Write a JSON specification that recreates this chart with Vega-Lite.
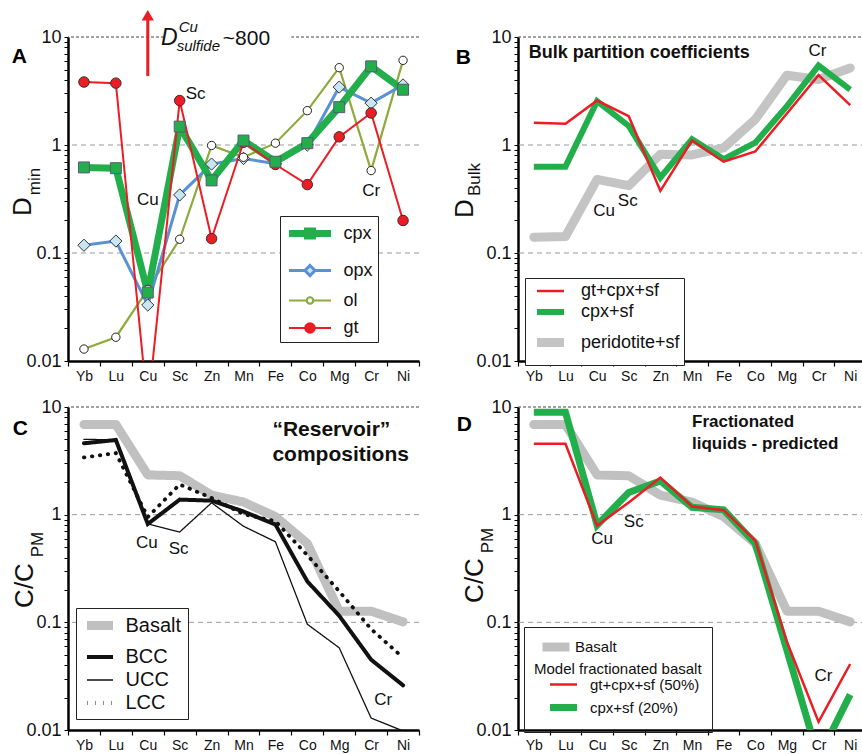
{
"$schema": "https://vega.github.io/schema/vega-lite/v6.json",
"background": "white",
"padding": {"left": 9, "top": 9, "right": 0, "bottom": 2},
"datasets": {
"A": [
{"el":"Yb","s":"ol","v":0.0129},{"el":"Lu","s":"ol","v":0.0166},{"el":"Cu","s":"ol","v":0.046},{"el":"Sc","s":"ol","v":0.134},{"el":"Zn","s":"ol","v":0.99},{"el":"Mn","s":"ol","v":0.77},{"el":"Fe","s":"ol","v":1.04},{"el":"Co","s":"ol","v":2.08},{"el":"Mg","s":"ol","v":5.2},{"el":"Cr","s":"ol","v":0.58},{"el":"Ni","s":"ol","v":6.08},
{"el":"Yb","s":"opx","v":0.118},{"el":"Lu","s":"opx","v":0.129},{"el":"Cu","s":"opx","v":0.033},{"el":"Sc","s":"opx","v":0.345},{"el":"Zn","s":"opx","v":0.666},{"el":"Mn","s":"opx","v":0.75},{"el":"Fe","s":"opx","v":0.67},{"el":"Co","s":"opx","v":1.0},{"el":"Mg","s":"opx","v":3.44},{"el":"Cr","s":"opx","v":2.44},{"el":"Ni","s":"opx","v":3.6},
{"el":"Yb","s":"cpx","v":0.62},{"el":"Lu","s":"cpx","v":0.61},{"el":"Cu","s":"cpx","v":0.043},{"el":"Sc","s":"cpx","v":1.48},{"el":"Zn","s":"cpx","v":0.47},{"el":"Mn","s":"cpx","v":1.1},{"el":"Fe","s":"cpx","v":0.7},{"el":"Co","s":"cpx","v":1.04},{"el":"Mg","s":"cpx","v":2.24},{"el":"Cr","s":"cpx","v":5.35},{"el":"Ni","s":"cpx","v":3.25},
{"el":"Yb","s":"gt","v":3.83},{"el":"Lu","s":"gt","v":3.74},{"el":"Cu","s":"gt","v":0.0036},{"el":"Sc","s":"gt","v":2.58},{"el":"Zn","s":"gt","v":0.136},{"el":"Mn","s":"gt","v":1.06},{"el":"Fe","s":"gt","v":0.66},{"el":"Co","s":"gt","v":0.43},{"el":"Mg","s":"gt","v":1.19},{"el":"Cr","s":"gt","v":1.98},{"el":"Ni","s":"gt","v":0.2}
],
"B": [
{"el":"Yb","s":"peridotite+sf","v":0.14},{"el":"Lu","s":"peridotite+sf","v":0.142},{"el":"Cu","s":"peridotite+sf","v":0.48},{"el":"Sc","s":"peridotite+sf","v":0.42},{"el":"Zn","s":"peridotite+sf","v":0.82},{"el":"Mn","s":"peridotite+sf","v":0.81},{"el":"Fe","s":"peridotite+sf","v":0.94},{"el":"Co","s":"peridotite+sf","v":1.73},{"el":"Mg","s":"peridotite+sf","v":4.43},{"el":"Cr","s":"peridotite+sf","v":4.04},{"el":"Ni","s":"peridotite+sf","v":5.17},
{"el":"Yb","s":"cpx+sf","v":0.63},{"el":"Lu","s":"cpx+sf","v":0.63},{"el":"Cu","s":"cpx+sf","v":2.55},{"el":"Sc","s":"cpx+sf","v":1.5},{"el":"Zn","s":"cpx+sf","v":0.5},{"el":"Mn","s":"cpx+sf","v":1.13},{"el":"Fe","s":"cpx+sf","v":0.74},{"el":"Co","s":"cpx+sf","v":1.05},{"el":"Mg","s":"cpx+sf","v":2.29},{"el":"Cr","s":"cpx+sf","v":5.44},{"el":"Ni","s":"cpx+sf","v":3.26},
{"el":"Yb","s":"gt+cpx+sf","v":1.61},{"el":"Lu","s":"gt+cpx+sf","v":1.57},{"el":"Cu","s":"gt+cpx+sf","v":2.58},{"el":"Sc","s":"gt+cpx+sf","v":1.85},{"el":"Zn","s":"gt+cpx+sf","v":0.376},{"el":"Mn","s":"gt+cpx+sf","v":1.1},{"el":"Fe","s":"gt+cpx+sf","v":0.7},{"el":"Co","s":"gt+cpx+sf","v":0.87},{"el":"Mg","s":"gt+cpx+sf","v":1.96},{"el":"Cr","s":"gt+cpx+sf","v":4.43},{"el":"Ni","s":"gt+cpx+sf","v":2.34}
],
"C": [
{"el":"Yb","s":"Basalt","v":6.88},{"el":"Lu","s":"Basalt","v":6.88},{"el":"Cu","s":"Basalt","v":2.34},{"el":"Sc","s":"Basalt","v":2.3},{"el":"Zn","s":"Basalt","v":1.52},{"el":"Mn","s":"Basalt","v":1.31},{"el":"Fe","s":"Basalt","v":0.96},{"el":"Co","s":"Basalt","v":0.54},{"el":"Mg","s":"Basalt","v":0.127},{"el":"Cr","s":"Basalt","v":0.127},{"el":"Ni","s":"Basalt","v":0.101},
{"el":"Yb","s":"UCC","v":5.0},{"el":"Lu","s":"UCC","v":4.97},{"el":"Cu","s":"UCC","v":0.82},{"el":"Sc","s":"UCC","v":0.69},{"el":"Zn","s":"UCC","v":1.29},{"el":"Mn","s":"UCC","v":0.78},{"el":"Fe","s":"UCC","v":0.56},{"el":"Co","s":"UCC","v":0.096},{"el":"Mg","s":"UCC","v":0.058},{"el":"Cr","s":"UCC","v":0.0129},{"el":"Ni","s":"UCC","v":0.0098},
{"el":"Yb","s":"LCC","v":3.4},{"el":"Lu","s":"LCC","v":3.73},{"el":"Cu","s":"LCC","v":0.95},{"el":"Sc","s":"LCC","v":1.91},{"el":"Zn","s":"LCC","v":1.43},{"el":"Mn","s":"LCC","v":1.01},{"el":"Fe","s":"LCC","v":0.87},{"el":"Co","s":"LCC","v":0.42},{"el":"Mg","s":"LCC","v":0.194},{"el":"Cr","s":"LCC","v":0.0866},{"el":"Ni","s":"LCC","v":0.047},
{"el":"Yb","s":"BCC","v":4.6},{"el":"Lu","s":"BCC","v":4.94},{"el":"Cu","s":"BCC","v":0.82},{"el":"Sc","s":"BCC","v":1.38},{"el":"Zn","s":"BCC","v":1.35},{"el":"Mn","s":"BCC","v":1.07},{"el":"Fe","s":"BCC","v":0.81},{"el":"Co","s":"BCC","v":0.24},{"el":"Mg","s":"BCC","v":0.115},{"el":"Cr","s":"BCC","v":0.045},{"el":"Ni","s":"BCC","v":0.026}
],
"D": [
{"el":"Yb","s":"Basalt","v":6.88},{"el":"Lu","s":"Basalt","v":6.88},{"el":"Cu","s":"Basalt","v":2.34},{"el":"Sc","s":"Basalt","v":2.3},{"el":"Zn","s":"Basalt","v":1.52},{"el":"Mn","s":"Basalt","v":1.31},{"el":"Fe","s":"Basalt","v":0.96},{"el":"Co","s":"Basalt","v":0.54},{"el":"Mg","s":"Basalt","v":0.127},{"el":"Cr","s":"Basalt","v":0.127},{"el":"Ni","s":"Basalt","v":0.101},
{"el":"Yb","s":"cpx+sf (20%)","v":8.93},{"el":"Lu","s":"cpx+sf (20%)","v":8.93},{"el":"Cu","s":"cpx+sf (20%)","v":0.8},{"el":"Sc","s":"cpx+sf (20%)","v":1.61},{"el":"Zn","s":"cpx+sf (20%)","v":2.06},{"el":"Mn","s":"cpx+sf (20%)","v":1.17},{"el":"Fe","s":"cpx+sf (20%)","v":1.11},{"el":"Co","s":"cpx+sf (20%)","v":0.54},{"el":"Mg","s":"cpx+sf (20%)","v":0.055},{"el":"Cr","s":"cpx+sf (20%)","v":0.0055},{"el":"Ni","s":"cpx+sf (20%)","v":0.0213},
{"el":"Yb","s":"gt+cpx+sf (50%)","v":4.55},{"el":"Lu","s":"gt+cpx+sf (50%)","v":4.55},{"el":"Cu","s":"gt+cpx+sf (50%)","v":0.79},{"el":"Sc","s":"gt+cpx+sf (50%)","v":1.3},{"el":"Zn","s":"gt+cpx+sf (50%)","v":2.21},{"el":"Mn","s":"gt+cpx+sf (50%)","v":1.19},{"el":"Fe","s":"gt+cpx+sf (50%)","v":1.1},{"el":"Co","s":"gt+cpx+sf (50%)","v":0.575},{"el":"Mg","s":"gt+cpx+sf (50%)","v":0.066},{"el":"Cr","s":"gt+cpx+sf (50%)","v":0.0119},{"el":"Ni","s":"gt+cpx+sf (50%)","v":0.041}
]
},
"spacing": 15,
"resolve": {"scale": {"color": "independent", "fill": "independent", "stroke": "independent", "strokeWidth": "independent", "strokeDash": "independent", "shape": "independent"}},
"vconcat": [
{"hconcat": [
{
"width": 351, "height": 324,
"title": {"text": "A", "orient": "left", "anchor": "end", "angle": 0, "align": "left", "baseline": "top", "frame": "group", "offset": 0, "dx": 18, "dy": 9, "fontSize": 21, "fontWeight": "bold", "color": "#000"},
"resolve": {"axis": {"y": "independent"}},
"layer": [
{"encoding": {"y": {"field": "v", "type": "quantitative", "scale": {"type": "log", "domain": [0.01, 10], "nice": false},
  "axis": {"orient": "left", "title": "D", "titleX": -38, "titleY": 169, "titleAngle": 270, "titleAlign": "center", "titleBaseline": "alphabetic", "titleFontSize": 26, "titleFontWeight": "normal",
   "values": [0.01,0.02,0.03,0.04,0.05,0.06,0.07,0.08,0.09,0.1,0.2,0.3,0.4,0.5,0.6,0.7,0.8,0.9,1,2,3,4,5,6,7,8,9,10],
   "labelExpr": "datum.value==0.01?'0.01':datum.value==0.1?'0.1':datum.value==1?'1':datum.value==10?'10':''"}}},
 "layer": [
  {"data": {"values": [{"v": 1}, {"v": 0.1}]}, "mark": {"type": "rule", "color": "#999", "strokeDash": [5, 4], "strokeWidth": 1}, "encoding": {}},
  {"data": {"values": [{"v": 10}]}, "mark": {"type": "rule", "color": "#444", "strokeDash": [3, 2], "strokeWidth": 1.2}, "encoding": {}},
  {"data": {"name": "A"}, "transform": [{"filter": "datum.s=='ol'"}], "mark": {"type": "line", "clip": true},
   "encoding": {"x": {"field": "el", "type": "nominal", "title": null, "sort": null, "scale": {"type": "band", "domain": ["Yb","Lu","Cu","Sc","Zn","Mn","Fe","Co","Mg","Cr","Ni"], "paddingInner": 0, "paddingOuter": 0}},
    "stroke": {"field": "s", "type": "nominal", "scale": {"domain": ["cpx","opx","ol","gt"], "range": ["#22ae4b","#5a90d4","#8cab3c","#ec1c24"]}},
    "strokeWidth": {"field": "s", "type": "nominal", "scale": {"type": "ordinal", "domain": ["cpx","opx","ol","gt"], "range": [7, 3, 2.2, 2]}}}},
  {"data": {"name": "A"}, "transform": [{"filter": "datum.s=='opx'"}], "mark": {"type": "line", "clip": true},
   "encoding": {"x": {"field": "el", "type": "nominal", "title": null, "sort": null, "scale": {"type": "band", "domain": ["Yb","Lu","Cu","Sc","Zn","Mn","Fe","Co","Mg","Cr","Ni"], "paddingInner": 0, "paddingOuter": 0}},
    "stroke": {"field": "s", "type": "nominal", "scale": {"domain": ["cpx","opx","ol","gt"], "range": ["#22ae4b","#5a90d4","#8cab3c","#ec1c24"]}},
    "strokeWidth": {"field": "s", "type": "nominal", "scale": {"type": "ordinal", "domain": ["cpx","opx","ol","gt"], "range": [7, 3, 2.2, 2]}}}},
  {"data": {"name": "A"}, "transform": [{"filter": "datum.s=='cpx'"}], "mark": {"type": "line", "clip": true, "strokeJoin": "round"},
   "encoding": {"x": {"field": "el", "type": "nominal", "title": null, "sort": null, "scale": {"type": "band", "domain": ["Yb","Lu","Cu","Sc","Zn","Mn","Fe","Co","Mg","Cr","Ni"], "paddingInner": 0, "paddingOuter": 0}},
    "stroke": {"field": "s", "type": "nominal", "scale": {"domain": ["cpx","opx","ol","gt"], "range": ["#22ae4b","#5a90d4","#8cab3c","#ec1c24"]}},
    "strokeWidth": {"field": "s", "type": "nominal", "scale": {"type": "ordinal", "domain": ["cpx","opx","ol","gt"], "range": [7, 3, 2.2, 2]}}}},
  {"data": {"name": "A"}, "transform": [{"filter": "datum.s=='gt'"}], "mark": {"type": "line", "clip": true},
   "encoding": {"x": {"field": "el", "type": "nominal", "title": null, "sort": null, "scale": {"type": "band", "domain": ["Yb","Lu","Cu","Sc","Zn","Mn","Fe","Co","Mg","Cr","Ni"], "paddingInner": 0, "paddingOuter": 0}},
    "stroke": {"field": "s", "type": "nominal", "scale": {"domain": ["cpx","opx","ol","gt"], "range": ["#22ae4b","#5a90d4","#8cab3c","#ec1c24"]}},
    "strokeWidth": {"field": "s", "type": "nominal", "scale": {"type": "ordinal", "domain": ["cpx","opx","ol","gt"], "range": [7, 3, 2.2, 2]}}}},
  {"data": {"name": "A"}, "transform": [{"filter": "datum.s=='opx'"}], "mark": {"type": "point", "shape": "diamond", "filled": true, "size": 150, "stroke": "#333", "strokeWidth": 1, "opacity": 1, "clip": true},
   "encoding": {"x": {"field": "el", "type": "nominal", "title": null, "sort": null, "scale": {"type": "band", "domain": ["Yb","Lu","Cu","Sc","Zn","Mn","Fe","Co","Mg","Cr","Ni"], "paddingInner": 0, "paddingOuter": 0}},
    "fill": {"field": "s", "type": "nominal", "scale": {"domain": ["cpx","opx","ol","gt"], "range": ["#22ae4b","#c8e6f2","#ffffff","#ec1c24"]}}}},
  {"data": {"name": "A"}, "transform": [{"filter": "datum.s=='ol'"}], "mark": {"type": "point", "shape": "circle", "filled": true, "size": 70, "stroke": "#222", "strokeWidth": 1, "opacity": 1, "clip": true},
   "encoding": {"x": {"field": "el", "type": "nominal", "title": null, "sort": null, "scale": {"type": "band", "domain": ["Yb","Lu","Cu","Sc","Zn","Mn","Fe","Co","Mg","Cr","Ni"], "paddingInner": 0, "paddingOuter": 0}},
    "fill": {"field": "s", "type": "nominal", "scale": {"domain": ["cpx","opx","ol","gt"], "range": ["#22ae4b","#c8e6f2","#ffffff","#ec1c24"]}}}},
  {"data": {"name": "A"}, "transform": [{"filter": "datum.s=='gt'"}], "mark": {"type": "point", "shape": "circle", "filled": true, "size": 110, "stroke": "#333", "strokeWidth": 1, "opacity": 1, "clip": true},
   "encoding": {"x": {"field": "el", "type": "nominal", "title": null, "sort": null, "scale": {"type": "band", "domain": ["Yb","Lu","Cu","Sc","Zn","Mn","Fe","Co","Mg","Cr","Ni"], "paddingInner": 0, "paddingOuter": 0}},
    "fill": {"field": "s", "type": "nominal", "scale": {"domain": ["cpx","opx","ol","gt"], "range": ["#22ae4b","#c8e6f2","#ffffff","#ec1c24"]}}}},
  {"data": {"name": "A"}, "transform": [{"filter": "datum.s=='cpx'"}], "mark": {"type": "point", "shape": "square", "filled": true, "size": 120, "stroke": "#5d5878", "strokeWidth": 1, "opacity": 1, "clip": true},
   "encoding": {"x": {"field": "el", "type": "nominal", "title": null, "sort": null, "scale": {"type": "band", "domain": ["Yb","Lu","Cu","Sc","Zn","Mn","Fe","Co","Mg","Cr","Ni"], "paddingInner": 0, "paddingOuter": 0}},
    "fill": {"field": "s", "type": "nominal", "scale": {"domain": ["cpx","opx","ol","gt"], "range": ["#22ae4b","#c8e6f2","#ffffff","#ec1c24"]}}}}
 ]},
{"encoding": {"y": {"field": "v", "type": "quantitative", "scale": {"type": "log", "domain": [0.01, 10], "nice": false},
  "axis": {"orient": "left", "title": "min", "titleX": -29, "titleY": 144, "titleAngle": 270, "titleAlign": "center", "titleBaseline": "alphabetic", "titleFontSize": 17, "titleFontWeight": "normal", "labels": false, "ticks": false, "domain": false, "grid": false}}},
 "layer": [
  {"data": {"values": [{"el": "Sc", "v": 12.6, "v2": 7.74}, {"el": "Zn", "v": 12.6, "v2": 7.74}, {"el": "Mn", "v": 12.6, "v2": 7.74}, {"el": "Fe", "v": 12.6, "v2": 7.74}]},
   "mark": {"type": "bar", "color": "#ffffff"},
   "encoding": {"x": {"field": "el", "type": "nominal", "title": null, "sort": null, "scale": {"type": "band", "domain": ["Yb","Lu","Cu","Sc","Zn","Mn","Fe","Co","Mg","Cr","Ni"], "paddingInner": 0, "paddingOuter": 0}}, "y2": {"field": "v2"}}},
  {"data": {"values": [{"el": "Cu", "v": 4.35, "v2": 15}]},
   "mark": {"type": "rule", "color": "#ec1c24", "strokeWidth": 3},
   "encoding": {"x": {"field": "el", "type": "nominal", "title": null, "sort": null, "scale": {"type": "band", "domain": ["Yb","Lu","Cu","Sc","Zn","Mn","Fe","Co","Mg","Cr","Ni"], "paddingInner": 0, "paddingOuter": 0}}, "y2": {"field": "v2"}}},
  {"data": {"values": [{"el": "Cu", "v": 15.9}]},
   "mark": {"type": "point", "shape": "triangle-up", "filled": true, "color": "#ec1c24", "size": 150, "opacity": 1},
   "encoding": {"x": {"field": "el", "type": "nominal", "title": null, "sort": null, "scale": {"type": "band", "domain": ["Yb","Lu","Cu","Sc","Zn","Mn","Fe","Co","Mg","Cr","Ni"], "paddingInner": 0, "paddingOuter": 0}}}},
  {"data": {"values": [{"el": "Sc", "v": 8.43, "t": "D"}]},
   "mark": {"type": "text", "fontStyle": "italic", "fontSize": 23, "align": "right", "baseline": "alphabetic", "dx": -2, "color": "#111"},
   "encoding": {"x": {"field": "el", "type": "nominal", "title": null, "sort": null, "scale": {"type": "band", "domain": ["Yb","Lu","Cu","Sc","Zn","Mn","Fe","Co","Mg","Cr","Ni"], "paddingInner": 0, "paddingOuter": 0}}, "text": {"field": "t"}}},
  {"data": {"values": [{"el": "Sc", "v": 11.1, "t": "Cu"}]},
   "mark": {"type": "text", "fontStyle": "italic", "fontSize": 15, "align": "left", "baseline": "alphabetic", "dx": -1, "color": "#111"},
   "encoding": {"x": {"field": "el", "type": "nominal", "title": null, "sort": null, "scale": {"type": "band", "domain": ["Yb","Lu","Cu","Sc","Zn","Mn","Fe","Co","Mg","Cr","Ni"], "paddingInner": 0, "paddingOuter": 0}}, "text": {"field": "t"}}},
  {"data": {"values": [{"el": "Sc", "v": 7.42, "t": "sulfide"}]},
   "mark": {"type": "text", "fontStyle": "italic", "fontSize": 15, "align": "left", "baseline": "alphabetic", "dx": -3, "color": "#111"},
   "encoding": {"x": {"field": "el", "type": "nominal", "title": null, "sort": null, "scale": {"type": "band", "domain": ["Yb","Lu","Cu","Sc","Zn","Mn","Fe","Co","Mg","Cr","Ni"], "paddingInner": 0, "paddingOuter": 0}}, "text": {"field": "t"}}},
  {"data": {"values": [{"el": "Mn", "v": 8.43, "t": "~800"}]},
   "mark": {"type": "text", "fontSize": 21, "align": "center", "baseline": "alphabetic", "dx": 3, "color": "#111"},
   "encoding": {"x": {"field": "el", "type": "nominal", "title": null, "sort": null, "scale": {"type": "band", "domain": ["Yb","Lu","Cu","Sc","Zn","Mn","Fe","Co","Mg","Cr","Ni"], "paddingInner": 0, "paddingOuter": 0}}, "text": {"field": "t"}}},
  {"data": {"values": [{"el": "Cu", "v": 0.31, "t": "Cu"}, {"el": "Cr", "v": 0.375, "t": "Cr"}]},
   "mark": {"type": "text", "fontSize": 17, "align": "center", "baseline": "middle", "color": "#111"},
   "encoding": {"x": {"field": "el", "type": "nominal", "title": null, "sort": null, "scale": {"type": "band", "domain": ["Yb","Lu","Cu","Sc","Zn","Mn","Fe","Co","Mg","Cr","Ni"], "paddingInner": 0, "paddingOuter": 0}}, "text": {"field": "t"}}},
  {"data": {"values": [{"el": "Sc", "v": 2.97, "t": "Sc"}]},
   "mark": {"type": "text", "fontSize": 17, "align": "center", "baseline": "middle", "dx": 16, "color": "#111"},
   "encoding": {"x": {"field": "el", "type": "nominal", "title": null, "sort": null, "scale": {"type": "band", "domain": ["Yb","Lu","Cu","Sc","Zn","Mn","Fe","Co","Mg","Cr","Ni"], "paddingInner": 0, "paddingOuter": 0}}, "text": {"field": "t"}}},
  {"data": {"name": "A"}, "transform": [{"filter": "false"}],
   "mark": {"type": "point", "filled": true, "opacity": 1},
   "encoding": {"x": {"field": "el", "type": "nominal", "title": null, "sort": null, "scale": {"type": "band", "domain": ["Yb","Lu","Cu","Sc","Zn","Mn","Fe","Co","Mg","Cr","Ni"], "paddingInner": 0, "paddingOuter": 0}},
    "fill": {"field": "s", "type": "nominal", "scale": {"domain": ["cpx","opx","ol","gt"], "range": ["#22ae4b","#c8e6f2","#ffffff","#ec1c24"]}, "legend": {"orient": "none", "legendX": 212, "legendY": 179, "title": null, "strokeColor": "#222", "fillColor": "#ffffff", "padding": 5, "labelFontSize": 18, "symbolSize": 324, "rowPadding": 8, "labelOffset": 21, "symbolOffset": 12.5, "labelExpr": "datum.label + '   '"}},
    "stroke": {"field": "s", "type": "nominal", "scale": {"domain": ["cpx","opx","ol","gt"], "range": ["#22ae4b","#5a90d4","#8cab3c","#ec1c24"]}, "legend": {"orient": "none", "legendX": 212, "legendY": 179, "title": null, "strokeColor": "#222", "fillColor": "#ffffff", "padding": 5, "labelFontSize": 18, "symbolSize": 324, "rowPadding": 8, "labelOffset": 21, "symbolOffset": 12.5, "labelExpr": "datum.label + '   '"}},
    "strokeWidth": {"field": "s", "type": "nominal", "scale": {"type": "ordinal", "domain": ["cpx","opx","ol","gt"], "range": [7, 3, 2.2, 2]}, "legend": {"orient": "none", "legendX": 212, "legendY": 179, "title": null, "strokeColor": "#222", "fillColor": "#ffffff", "padding": 5, "labelFontSize": 18, "symbolSize": 324, "rowPadding": 8, "labelOffset": 21, "symbolOffset": 12.5, "labelExpr": "datum.label + '   '"}},
    "shape": {"field": "s", "type": "nominal", "scale": {"domain": ["cpx","opx","ol","gt"], "range": ["M-2.33,0H2.33M-0.28,-0.28H0.28V0.28H-0.28Z", "M-2.33,0H-0.56M0.56,0H2.33M0,-0.56L0.56,0L0,0.56L-0.56,0Z", "M-2.33,0H-0.36M0.36,0H2.33M-0.36,0A0.36,0.36,0,1,1,0.36,0A0.36,0.36,0,1,1,-0.36,0Z", "M-2.33,0H-0.53M0.53,0H2.33M-0.53,0A0.53,0.53,0,1,1,0.53,0A0.53,0.53,0,1,1,-0.53,0Z"]},
     "legend": {"orient": "none", "legendX": 212, "legendY": 179, "title": null, "strokeColor": "#222", "fillColor": "#ffffff", "padding": 5, "labelFontSize": 18, "symbolSize": 324, "rowPadding": 8, "labelOffset": 21, "symbolOffset": 12.5, "labelExpr": "datum.label + '   '"}}}}
 ]}
]
},
{
"width": 348, "height": 324,
"title": {"text": "B", "orient": "left", "anchor": "end", "angle": 0, "align": "left", "baseline": "top", "frame": "group", "offset": 0, "dx": 20, "dy": 10, "fontSize": 21, "fontWeight": "bold", "color": "#000"},
"resolve": {"axis": {"y": "independent"}},
"layer": [
{"encoding": {"y": {"field": "v", "type": "quantitative", "scale": {"type": "log", "domain": [0.01, 10], "nice": false},
  "axis": {"orient": "left", "title": "D", "titleX": -46, "titleY": 171, "titleAngle": 270, "titleAlign": "center", "titleBaseline": "alphabetic", "titleFontSize": 26, "titleFontWeight": "normal",
   "values": [0.01,0.02,0.03,0.04,0.05,0.06,0.07,0.08,0.09,0.1,0.2,0.3,0.4,0.5,0.6,0.7,0.8,0.9,1,2,3,4,5,6,7,8,9,10],
   "labelExpr": "datum.value==0.01?'0.01':datum.value==0.1?'0.1':datum.value==1?'1':datum.value==10?'10':''"}}},
 "layer": [
  {"data": {"values": [{"v": 1}, {"v": 0.1}]}, "mark": {"type": "rule", "color": "#999", "strokeDash": [5, 4], "strokeWidth": 1}, "encoding": {}},
  {"data": {"values": [{"v": 10}]}, "mark": {"type": "rule", "color": "#444", "strokeDash": [3, 2], "strokeWidth": 1.2}, "encoding": {}},
  {"data": {"name": "B"}, "transform": [{"filter": "datum.s=='peridotite+sf'"}], "mark": {"type": "line", "clip": true, "strokeCap": "round", "strokeJoin": "round"},
   "encoding": {"x": {"field": "el", "type": "nominal", "title": null, "sort": null, "scale": {"type": "band", "domain": ["Yb","Lu","Cu","Sc","Zn","Mn","Fe","Co","Mg","Cr","Ni"], "paddingInner": 0, "paddingOuter": 0}},
    "stroke": {"field": "s", "type": "nominal", "scale": {"domain": ["gt+cpx+sf","cpx+sf","peridotite+sf"], "range": ["#ec1c24","#22ae4b","#c4c4c4"]},
     "legend": {"orient": "none", "legendX": 7, "legendY": 241, "title": null, "strokeColor": "#222", "fillColor": "#ffffff", "padding": 4, "labelFontSize": 18, "symbolType": "M-1.93,0H1.93", "symbolSize": 196, "rowPadding": 0, "labelOffset": 19, "symbolOffset": 10, "labelExpr": "datum.label + ' '"}},
    "strokeWidth": {"field": "s", "type": "nominal", "scale": {"type": "ordinal", "domain": ["gt+cpx+sf","cpx+sf","peridotite+sf"], "range": [2.5, 6, 9]},
     "legend": {"orient": "none", "legendX": 7, "legendY": 241, "title": null, "strokeColor": "#222", "fillColor": "#ffffff", "padding": 4, "labelFontSize": 18, "symbolType": "M-1.93,0H1.93", "symbolSize": 196, "rowPadding": 0, "labelOffset": 19, "symbolOffset": 10, "labelExpr": "datum.label + ' '"}}}},
  {"data": {"name": "B"}, "transform": [{"filter": "datum.s=='cpx+sf'"}], "mark": {"type": "line", "clip": true, "strokeJoin": "miter", "strokeMiterLimit": 3},
   "encoding": {"x": {"field": "el", "type": "nominal", "title": null, "sort": null, "scale": {"type": "band", "domain": ["Yb","Lu","Cu","Sc","Zn","Mn","Fe","Co","Mg","Cr","Ni"], "paddingInner": 0, "paddingOuter": 0}},
    "stroke": {"field": "s", "type": "nominal", "scale": {"domain": ["gt+cpx+sf","cpx+sf","peridotite+sf"], "range": ["#ec1c24","#22ae4b","#c4c4c4"]}},
    "strokeWidth": {"field": "s", "type": "nominal", "scale": {"type": "ordinal", "domain": ["gt+cpx+sf","cpx+sf","peridotite+sf"], "range": [2.5, 6, 9]}}}},
  {"data": {"name": "B"}, "transform": [{"filter": "datum.s=='gt+cpx+sf'"}], "mark": {"type": "line", "clip": true},
   "encoding": {"x": {"field": "el", "type": "nominal", "title": null, "sort": null, "scale": {"type": "band", "domain": ["Yb","Lu","Cu","Sc","Zn","Mn","Fe","Co","Mg","Cr","Ni"], "paddingInner": 0, "paddingOuter": 0}},
    "stroke": {"field": "s", "type": "nominal", "scale": {"domain": ["gt+cpx+sf","cpx+sf","peridotite+sf"], "range": ["#ec1c24","#22ae4b","#c4c4c4"]}},
    "strokeWidth": {"field": "s", "type": "nominal", "scale": {"type": "ordinal", "domain": ["gt+cpx+sf","cpx+sf","peridotite+sf"], "range": [2.5, 6, 9]}}}}
 ]},
{"encoding": {"y": {"field": "v", "type": "quantitative", "scale": {"type": "log", "domain": [0.01, 10], "nice": false},
  "axis": {"orient": "left", "title": "Bulk", "titleX": -39, "titleY": 142, "titleAngle": 270, "titleAlign": "center", "titleBaseline": "alphabetic", "titleFontSize": 17, "titleFontWeight": "normal", "labels": false, "ticks": false, "domain": false, "grid": false}}},
 "layer": [
  {"data": {"values": [{"el": "Yb", "v": 7.11, "t": "Bulk partition coefficients"}]},
   "mark": {"type": "text", "fontSize": 18, "fontWeight": "bold", "align": "left", "baseline": "middle", "dx": -5, "color": "#111"},
   "encoding": {"x": {"field": "el", "type": "nominal", "title": null, "sort": null, "scale": {"type": "band", "domain": ["Yb","Lu","Cu","Sc","Zn","Mn","Fe","Co","Mg","Cr","Ni"], "paddingInner": 0, "paddingOuter": 0}}, "text": {"field": "t"}}},
  {"data": {"values": [{"el": "Cr", "v": 7.42, "t": "Cr"}, {"el": "Sc", "v": 0.303, "t": "Sc"}]},
   "mark": {"type": "text", "fontSize": 17, "align": "center", "baseline": "middle", "dx": -1, "color": "#111"},
   "encoding": {"x": {"field": "el", "type": "nominal", "title": null, "sort": null, "scale": {"type": "band", "domain": ["Yb","Lu","Cu","Sc","Zn","Mn","Fe","Co","Mg","Cr","Ni"], "paddingInner": 0, "paddingOuter": 0}}, "text": {"field": "t"}}},
  {"data": {"values": [{"el": "Cu", "v": 0.245, "t": "Cu"}]},
   "mark": {"type": "text", "fontSize": 17, "align": "center", "baseline": "middle", "dx": 7, "color": "#111"},
   "encoding": {"x": {"field": "el", "type": "nominal", "title": null, "sort": null, "scale": {"type": "band", "domain": ["Yb","Lu","Cu","Sc","Zn","Mn","Fe","Co","Mg","Cr","Ni"], "paddingInner": 0, "paddingOuter": 0}}, "text": {"field": "t"}}}
 ]}
]
}
], "spacing": 99, "bounds": "flush", "resolve": {"scale": {"color": "independent", "fill": "independent", "stroke": "independent", "strokeWidth": "independent", "strokeDash": "independent", "shape": "independent"}}},
{"hconcat": [
{
"width": 351, "height": 323,
"title": {"text": "C", "orient": "left", "anchor": "end", "angle": 0, "align": "left", "baseline": "top", "frame": "group", "offset": 0, "dx": 17, "dy": 11, "fontSize": 21, "fontWeight": "bold", "color": "#000"},
"resolve": {"axis": {"y": "independent"}},
"layer": [
{"encoding": {"y": {"field": "v", "type": "quantitative", "scale": {"type": "log", "domain": [0.01, 10], "nice": false},
  "axis": {"orient": "left", "title": "C/C", "titleX": -36, "titleY": 178, "titleAngle": 270, "titleAlign": "center", "titleBaseline": "alphabetic", "titleFontSize": 26, "titleFontWeight": "normal",
   "values": [0.01,0.02,0.03,0.04,0.05,0.06,0.07,0.08,0.09,0.1,0.2,0.3,0.4,0.5,0.6,0.7,0.8,0.9,1,2,3,4,5,6,7,8,9,10],
   "labelExpr": "datum.value==0.01?'0.01':datum.value==0.1?'0.1':datum.value==1?'1':datum.value==10?'10':''"}}},
 "layer": [
  {"data": {"values": [{"v": 1}, {"v": 0.1}]}, "mark": {"type": "rule", "color": "#999", "strokeDash": [5, 4], "strokeWidth": 1}, "encoding": {}},
  {"data": {"values": [{"v": 10}]}, "mark": {"type": "rule", "color": "#444", "strokeDash": [3, 2], "strokeWidth": 1.2}, "encoding": {}},
  {"data": {"name": "C"}, "transform": [{"filter": "datum.s=='Basalt'"}], "mark": {"type": "line", "clip": true, "strokeCap": "round", "strokeJoin": "round"},
   "encoding": {"x": {"field": "el", "type": "nominal", "title": null, "sort": null, "scale": {"type": "band", "domain": ["Yb","Lu","Cu","Sc","Zn","Mn","Fe","Co","Mg","Cr","Ni"], "paddingInner": 0, "paddingOuter": 0}},
    "stroke": {"field": "s", "type": "nominal", "scale": {"domain": ["Basalt","BCC","UCC","LCC"], "range": ["#c0c0c0","#111111","#111111","#111111"]},
     "legend": {"orient": "none", "legendX": 8, "legendY": 201, "title": null, "strokeColor": "#222", "fillColor": "#ffffff", "padding": 6, "labelFontSize": 20, "symbolType": "M-1.86,0H1.86", "symbolSize": 196, "rowPadding": 3, "labelOffset": 14, "symbolOffset": 6.5, "labelExpr": "datum.label + '   '"}},
    "strokeWidth": {"field": "s", "type": "nominal", "scale": {"type": "ordinal", "domain": ["Basalt","BCC","UCC","LCC"], "range": [9, 4, 1.3, 3.8]},
     "legend": {"orient": "none", "legendX": 8, "legendY": 201, "title": null, "strokeColor": "#222", "fillColor": "#ffffff", "padding": 6, "labelFontSize": 20, "symbolType": "M-1.86,0H1.86", "symbolSize": 196, "rowPadding": 3, "labelOffset": 14, "symbolOffset": 6.5, "labelExpr": "datum.label + '   '"}},
    "strokeDash": {"field": "s", "type": "nominal", "scale": {"type": "ordinal", "domain": ["Basalt","BCC","UCC","LCC"], "range": [[1, 0], [1, 0], [1, 0], [0.5, 7.5]]},
     "legend": {"orient": "none", "legendX": 8, "legendY": 201, "title": null, "strokeColor": "#222", "fillColor": "#ffffff", "padding": 6, "labelFontSize": 20, "symbolType": "M-1.86,0H1.86", "symbolSize": 196, "rowPadding": 3, "labelOffset": 14, "symbolOffset": 6.5, "labelExpr": "datum.label + '   '"}}}},
  {"data": {"name": "C"}, "transform": [{"filter": "datum.s!='Basalt'"}], "mark": {"type": "line", "clip": true, "strokeCap": "round"},
   "encoding": {"x": {"field": "el", "type": "nominal", "title": null, "sort": null, "scale": {"type": "band", "domain": ["Yb","Lu","Cu","Sc","Zn","Mn","Fe","Co","Mg","Cr","Ni"], "paddingInner": 0, "paddingOuter": 0}},
    "stroke": {"field": "s", "type": "nominal", "scale": {"domain": ["Basalt","BCC","UCC","LCC"], "range": ["#c0c0c0","#111111","#111111","#111111"]}},
    "strokeWidth": {"field": "s", "type": "nominal", "scale": {"type": "ordinal", "domain": ["Basalt","BCC","UCC","LCC"], "range": [9, 4, 1.3, 3.8]}},
    "strokeDash": {"field": "s", "type": "nominal", "scale": {"type": "ordinal", "domain": ["Basalt","BCC","UCC","LCC"], "range": [[1, 0], [1, 0], [1, 0], [0.5, 7.5]]}}}}
 ]},
{"encoding": {"y": {"field": "v", "type": "quantitative", "scale": {"type": "log", "domain": [0.01, 10], "nice": false},
  "axis": {"orient": "left", "title": "PM", "titleX": -26, "titleY": 137, "titleAngle": 270, "titleAlign": "center", "titleBaseline": "alphabetic", "titleFontSize": 17, "titleFontWeight": "normal", "labels": false, "ticks": false, "domain": false, "grid": false}}},
 "layer": [
  {"data": {"values": [{"el": "Fe", "v": 6.11, "t": "“Reservoir”"}, {"el": "Fe", "v": 3.58, "t": "compositions"}]},
   "mark": {"type": "text", "fontSize": 21, "fontWeight": "bold", "align": "left", "baseline": "middle", "dx": -3, "color": "#111"},
   "encoding": {"x": {"field": "el", "type": "nominal", "title": null, "sort": null, "scale": {"type": "band", "domain": ["Yb","Lu","Cu","Sc","Zn","Mn","Fe","Co","Mg","Cr","Ni"], "paddingInner": 0, "paddingOuter": 0}}, "text": {"field": "t"}}},
  {"data": {"values": [{"el": "Cu", "v": 0.546, "t": "Cu"}, {"el": "Sc", "v": 0.481, "t": "Sc"}]},
   "mark": {"type": "text", "fontSize": 17, "align": "center", "baseline": "middle", "dx": -1, "color": "#111"},
   "encoding": {"x": {"field": "el", "type": "nominal", "title": null, "sort": null, "scale": {"type": "band", "domain": ["Yb","Lu","Cu","Sc","Zn","Mn","Fe","Co","Mg","Cr","Ni"], "paddingInner": 0, "paddingOuter": 0}}, "text": {"field": "t"}}},
  {"data": {"values": [{"el": "Cr", "v": 0.019, "t": "Cr"}]},
   "mark": {"type": "text", "fontSize": 17, "align": "center", "baseline": "middle", "dx": 12, "color": "#111"},
   "encoding": {"x": {"field": "el", "type": "nominal", "title": null, "sort": null, "scale": {"type": "band", "domain": ["Yb","Lu","Cu","Sc","Zn","Mn","Fe","Co","Mg","Cr","Ni"], "paddingInner": 0, "paddingOuter": 0}}, "text": {"field": "t"}}}
 ]}
]
},
{
"width": 348, "height": 323,
"title": {"text": "D", "orient": "left", "anchor": "end", "angle": 0, "align": "left", "baseline": "top", "frame": "group", "offset": 0, "dx": 11, "dy": 7, "fontSize": 21, "fontWeight": "bold", "color": "#000"},
"resolve": {"axis": {"y": "independent"}},
"layer": [
{"encoding": {"y": {"field": "v", "type": "quantitative", "scale": {"type": "log", "domain": [0.01, 10], "nice": false},
  "axis": {"orient": "left", "title": "C/C", "titleX": -36, "titleY": 173, "titleAngle": 270, "titleAlign": "center", "titleBaseline": "alphabetic", "titleFontSize": 26, "titleFontWeight": "normal",
   "values": [0.01,0.02,0.03,0.04,0.05,0.06,0.07,0.08,0.09,0.1,0.2,0.3,0.4,0.5,0.6,0.7,0.8,0.9,1,2,3,4,5,6,7,8,9,10],
   "labelExpr": "datum.value==0.01?'0.01':datum.value==0.1?'0.1':datum.value==1?'1':datum.value==10?'10':''"}}},
 "layer": [
  {"data": {"values": [{"v": 1}, {"v": 0.1}]}, "mark": {"type": "rule", "color": "#999", "strokeDash": [5, 4], "strokeWidth": 1}, "encoding": {}},
  {"data": {"values": [{"v": 10}]}, "mark": {"type": "rule", "color": "#444", "strokeDash": [3, 2], "strokeWidth": 1.2}, "encoding": {}},
  {"data": {"name": "D"}, "transform": [{"filter": "datum.s=='Basalt'"}], "mark": {"type": "line", "clip": true, "strokeWidth": 9, "strokeCap": "round", "strokeJoin": "round"},
   "encoding": {"x": {"field": "el", "type": "nominal", "title": null, "sort": null, "scale": {"type": "band", "domain": ["Yb","Lu","Cu","Sc","Zn","Mn","Fe","Co","Mg","Cr","Ni"], "paddingInner": 0, "paddingOuter": 0}},
    "color": {"field": "s", "type": "nominal", "scale": {"domain": ["Basalt"], "range": ["#c0c0c0"]},
     "legend": {"orient": "none", "legendX": 20, "legendY": 222, "title": null, "padding": 0, "labelFontSize": 15, "symbolType": "stroke", "symbolSize": 729, "symbolStrokeWidth": 9, "labelOffset": 1}}}},
  {"data": {"name": "D"}, "transform": [{"filter": "datum.s=='cpx+sf (20%)'"}], "mark": {"type": "line", "clip": true, "strokeJoin": "miter", "strokeMiterLimit": 3},
   "encoding": {"x": {"field": "el", "type": "nominal", "title": null, "sort": null, "scale": {"type": "band", "domain": ["Yb","Lu","Cu","Sc","Zn","Mn","Fe","Co","Mg","Cr","Ni"], "paddingInner": 0, "paddingOuter": 0}},
    "stroke": {"field": "s", "type": "nominal", "scale": {"domain": ["gt+cpx+sf (50%)","cpx+sf (20%)"], "range": ["#ec1c24","#22ae4b"]},
     "legend": {"orient": "none", "legendX": 6, "legendY": 220, "title": ["", "Model fractionated basalt"], "titleFontSize": 15, "titleFontWeight": "normal", "titleLineHeight": 25, "titlePadding": -1, "titleColor": "#111", "strokeColor": "#222", "padding": 10, "labelFontSize": 15, "symbolType": "M-1.93,0H1.93", "symbolSize": 196, "rowPadding": 0, "labelOffset": 16, "symbolOffset": 19}},
    "strokeWidth": {"field": "s", "type": "nominal", "scale": {"type": "ordinal", "domain": ["gt+cpx+sf (50%)","cpx+sf (20%)"], "range": [2.5, 7]},
     "legend": {"orient": "none", "legendX": 6, "legendY": 220, "title": ["", "Model fractionated basalt"], "titleFontSize": 15, "titleFontWeight": "normal", "titleLineHeight": 25, "titlePadding": -1, "titleColor": "#111", "strokeColor": "#222", "padding": 10, "labelFontSize": 15, "symbolType": "M-1.93,0H1.93", "symbolSize": 196, "rowPadding": 0, "labelOffset": 16, "symbolOffset": 19}}}},
  {"data": {"name": "D"}, "transform": [{"filter": "datum.s=='gt+cpx+sf (50%)'"}], "mark": {"type": "line", "clip": true},
   "encoding": {"x": {"field": "el", "type": "nominal", "title": null, "sort": null, "scale": {"type": "band", "domain": ["Yb","Lu","Cu","Sc","Zn","Mn","Fe","Co","Mg","Cr","Ni"], "paddingInner": 0, "paddingOuter": 0}},
    "stroke": {"field": "s", "type": "nominal", "scale": {"domain": ["gt+cpx+sf (50%)","cpx+sf (20%)"], "range": ["#ec1c24","#22ae4b"]}},
    "strokeWidth": {"field": "s", "type": "nominal", "scale": {"type": "ordinal", "domain": ["gt+cpx+sf (50%)","cpx+sf (20%)"], "range": [2.5, 7]}}}}
 ]},
{"encoding": {"y": {"field": "v", "type": "quantitative", "scale": {"type": "log", "domain": [0.01, 10], "nice": false},
  "axis": {"orient": "left", "title": "PM", "titleX": -26, "titleY": 133, "titleAngle": 270, "titleAlign": "center", "titleBaseline": "alphabetic", "titleFontSize": 17, "titleFontWeight": "normal", "labels": false, "ticks": false, "domain": false, "grid": false}}},
 "layer": [
  {"data": {"values": [{"el": "Mn", "v": 7.26, "t": "Fractionated"}, {"el": "Mn", "v": 4.53, "t": "liquids - predicted"}]},
   "mark": {"type": "text", "fontSize": 17, "fontWeight": "bold", "align": "left", "baseline": "middle", "dx": 0, "color": "#111"},
   "encoding": {"x": {"field": "el", "type": "nominal", "title": null, "sort": null, "scale": {"type": "band", "domain": ["Yb","Lu","Cu","Sc","Zn","Mn","Fe","Co","Mg","Cr","Ni"], "paddingInner": 0, "paddingOuter": 0}}, "text": {"field": "t"}}},
  {"data": {"values": [{"el": "Cu", "v": 0.595, "t": "Cu"}, {"el": "Sc", "v": 0.855, "t": "Sc"}, {"el": "Cr", "v": 0.0318, "t": "Cr"}]},
   "mark": {"type": "text", "fontSize": 17, "align": "center", "baseline": "middle", "dx": 5, "color": "#111"},
   "encoding": {"x": {"field": "el", "type": "nominal", "title": null, "sort": null, "scale": {"type": "band", "domain": ["Yb","Lu","Cu","Sc","Zn","Mn","Fe","Co","Mg","Cr","Ni"], "paddingInner": 0, "paddingOuter": 0}}, "text": {"field": "t"}}}
 ]}
]
}
], "spacing": 99, "bounds": "flush", "resolve": {"scale": {"color": "independent", "fill": "independent", "stroke": "independent", "strokeWidth": "independent", "strokeDash": "independent", "shape": "independent"}}}
],
"config": {
 "font": "Liberation Sans",
 "view": {"stroke": null},
 "axis": {"domainColor": "#000", "tickColor": "#000", "labelColor": "#111", "titleColor": "#111", "grid": false},
 "axisX": {"labelAngle": 0, "tickBand": "extent", "labelFontSize": 14, "tickSize": 5, "domainWidth": 2.5, "tickWidth": 1.2, "labelPadding": 3},
 "axisY": {"labelFontSize": 18, "tickSize": 4, "domainWidth": 2.5, "tickWidth": 1, "labelPadding": 3, "labelFlush": false, "labelOverlap": false},
 "legend": {"symbolFillColor": "#ffffff", "symbolStrokeColor": "#000000", "labelColor": "#111", "cornerRadius": 0}
}
}
